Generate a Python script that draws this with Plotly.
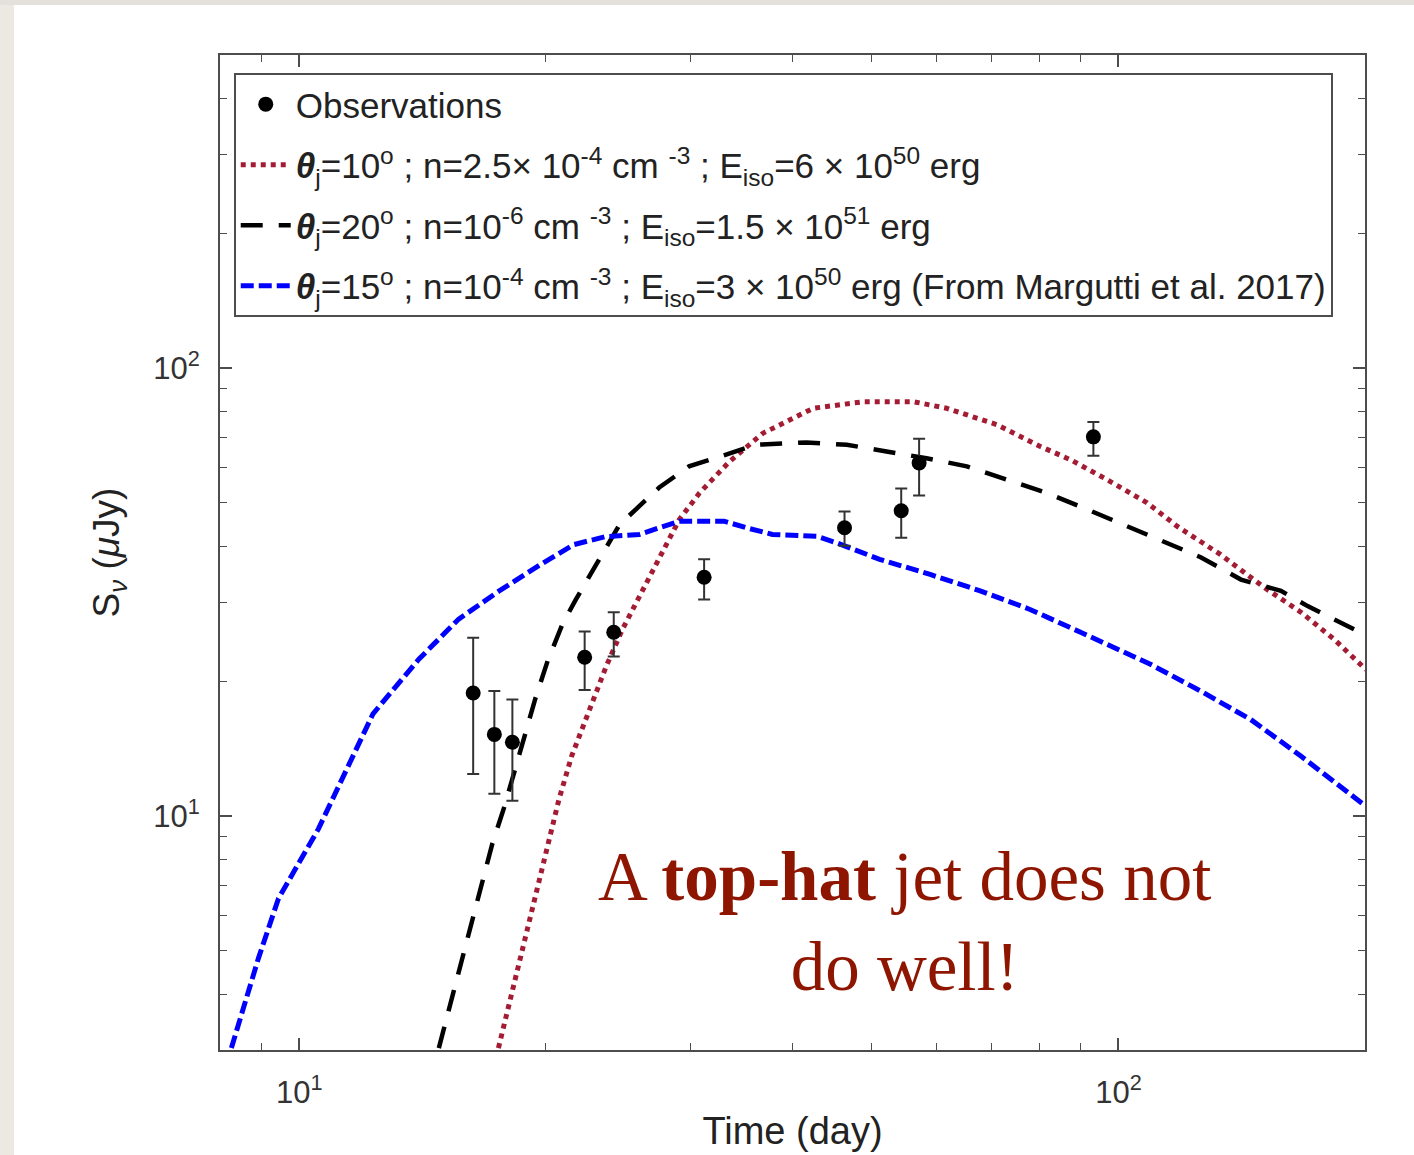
import plotly.graph_objects as go
import math

# ---------------- data ----------------
obs_t = [16.3, 17.3, 18.2, 22.3, 24.2, 31.2, 46.3, 54.3, 57.1, 93.2]
obs_s = [18.8, 15.2, 14.6, 22.6, 25.7, 34.1, 44.0, 48.0, 61.4, 70.2]
obs_hi = [25.0, 19.0, 18.2, 25.8, 28.5, 37.4, 47.8, 53.8, 69.5, 75.8]
obs_lo = [12.4, 11.2, 10.8, 19.1, 22.7, 30.4, 40.1, 41.8, 51.9, 63.7]

red_t = [17.5, 20.0, 20.75, 21.5, 22.6, 23.7, 24.8, 25.9, 29.1, 30.8, 33.5, 36.8, 42.4, 48.8,
         56.2, 61.7, 71.1, 80.3, 87.4, 96.9, 108.4, 118.0, 133.3, 150.5, 167.0, 183.3, 200.6]
red_s = [3.03, 8.44, 10.9, 13.6, 17.3, 21.6, 26.1, 30.4, 45.9, 52.6, 61.8, 71.5, 81.3, 84.1,
         84.1, 81.3, 74.7, 66.8, 62.4, 56.3, 50.0, 44.3, 38.3, 32.4, 28.5, 24.8, 21.2]

blk_t = [14.8, 17.2, 17.8, 18.3, 18.9, 19.4, 20.1, 20.95, 21.75, 24.6, 27.5, 29.9, 32.6, 36.1,
         41.6, 46.6, 52.1, 58.3, 65.3, 73.1, 81.8, 90.7, 101.5, 113.6, 126.0, 141.1, 157.9, 170.2, 200.6]
blk_s = [3.03, 8.66, 10.5, 12.5, 15.6, 18.2, 22.2, 26.8, 30.4, 44.7, 54.1, 60.3, 63.4, 67.4,
         68.2, 67.4, 65.1, 62.9, 60.3, 56.3, 52.6, 48.7, 44.7, 41.0, 37.8, 33.7, 31.8, 29.4, 25.3]

blu_t = [8.26, 8.91, 9.43, 10.55, 12.3, 14.0, 15.65, 17.5, 19.6, 21.6, 23.6, 26.0, 29.1, 33.0,
         35.1, 37.8, 42.8, 45.3, 51.1, 58.9, 67.8, 78.0, 89.9, 109.4, 126.0, 145.1, 167.0, 200.6]
blu_s = [3.03, 4.80, 6.54, 9.35, 16.9, 22.4, 27.5, 31.7, 36.2, 40.3, 42.0, 42.5, 45.5, 45.5,
         44.0, 42.5, 42.1, 40.7, 37.4, 34.6, 31.8, 28.9, 25.7, 21.8, 19.0, 16.4, 13.6, 10.5]

x_major = [10, 100]
x_major_text = ["10<sup>1</sup>", "10<sup>2</sup>"]
x_minor = [8, 9, 20, 30, 40, 50, 60, 70, 80, 90, 200]
y_major = [10, 100]
y_major_text = ["10<sup>1</sup>", "10<sup>2</sup>"]
y_minor = [3, 4, 5, 6, 7, 8, 9, 20, 30, 40, 50, 60, 70, 80, 90, 200, 300, 400, 500]

name_obs = "Observations"
name_red = ("<b><i>θ</i></b><sub>j</sub>=10<sup>o</sup> ; n=2.5× 10<sup>-4</sup> cm <sup>-3</sup>"
            " ; E<sub>iso</sub>=6 × 10<sup>50</sup> erg")
name_blk = ("<b><i>θ</i></b><sub>j</sub>=20<sup>o</sup> ; n=10<sup>-6</sup> cm <sup>-3</sup>"
            " ; E<sub>iso</sub>=1.5 × 10<sup>51</sup> erg")
name_blu = ("<b><i>θ</i></b><sub>j</sub>=15<sup>o</sup> ; n=10<sup>-4</sup> cm <sup>-3</sup>"
            " ; E<sub>iso</sub>=3 × 10<sup>50</sup> erg (From Margutti et al. 2017)")

FONT = "Liberation Sans, Arial, Helvetica, sans-serif"

fig = go.Figure()

fig.add_trace(go.Scatter(x=red_t, y=red_s, mode="lines", name=name_red, legendrank=2, legendgroup="r",
                         line=dict(color="#a41c34", width=5, dash="5px,5px")))
fig.add_trace(go.Scatter(x=blk_t, y=blk_s, mode="lines", name=name_blk, legendrank=3, legendgroup="k",
                         line=dict(color="black", width=4.5, dash="22px,16px")))
fig.add_trace(go.Scatter(x=blu_t, y=blu_s, mode="lines", name=name_blu, legendrank=4, legendgroup="b",
                         line=dict(color="#0000ff", width=5, dash="13px,5px")))
fig.add_trace(go.Scatter(
    x=obs_t, y=obs_s, mode="markers", name=name_obs, legendrank=1, legendgroup="o",
    marker=dict(color="black", size=15, symbol="circle"),
    error_y=dict(type="data", symmetric=False,
                 array=[h - s for h, s in zip(obs_hi, obs_s)],
                 arrayminus=[s - l for s, l in zip(obs_s, obs_lo)],
                 color="#333333", thickness=2, width=6)))

axis_common = dict(
    type="log", showgrid=False, zeroline=False, automargin=False,
    showline=True, linecolor="#4d4d4d", linewidth=2, mirror="ticks",
    ticks="inside", ticklen=12, tickwidth=1.5, tickcolor="#4d4d4d",
    tickfont=dict(family=FONT, size=31, color="#333333"),
)

fig.update_xaxes(
    **axis_common,
    range=[math.log10(8), math.log10(200)],
    tickmode="array", tickvals=x_major, ticktext=x_major_text,
    minor=dict(ticks="inside", ticklen=7, tickwidth=1.2, tickcolor="#4d4d4d", tickvals=x_minor),
    title=dict(text="Time (day)", font=dict(family=FONT, size=38, color="#222222"), standoff=8),
    ticklabelstandoff=14,
)
fig.update_yaxes(
    **axis_common,
    range=[math.log10(3), math.log10(500)],
    tickmode="array", tickvals=y_major, ticktext=y_major_text,
    minor=dict(ticks="inside", ticklen=7, tickwidth=1.2, tickcolor="#4d4d4d", tickvals=y_minor),
    title=dict(text="S<sub><i>ν</i></sub> (<i>μ</i>Jy)", font=dict(family=FONT, size=37, color="#222222"),
               standoff=22),
    ticklabelstandoff=12,
)

fig.update_layout(
    width=1414, height=1155,
    margin=dict(l=220, r=49, t=55, b=105),
    paper_bgcolor="white", plot_bgcolor="white",
    showlegend=True,
    legend=dict(
        x=0.012, y=0.982, xanchor="left", yanchor="top",
        bgcolor="white", bordercolor="#4d4d4d", borderwidth=2,
        font=dict(family=FONT, size=35, color="#222222"),
        itemwidth=50, tracegroupgap=12,
    ),
    annotations=[dict(
        xref="paper", yref="paper", x=0.598, y=0.1286, xanchor="center", yanchor="middle",
        text="A <b>top-hat</b> jet does not<br>do well!", showarrow=False,
        font=dict(family="Liberation Serif, DejaVu Serif, serif", size=69, color="#8e1500"),
    )],
    shapes=[
        dict(type="rect", xref="paper", yref="paper", x0=-0.1925, x1=-0.1799, y0=-0.2, y1=1.06,
             fillcolor="#ece9e3", line=dict(width=0), layer="below"),
        dict(type="rect", xref="paper", yref="paper", x0=-0.1925, x1=1.05, y0=1.0503, y1=1.06,
             fillcolor="#e4e1dc", line=dict(width=0), layer="below"),
    ],
)

fig.write_html("out.html")
